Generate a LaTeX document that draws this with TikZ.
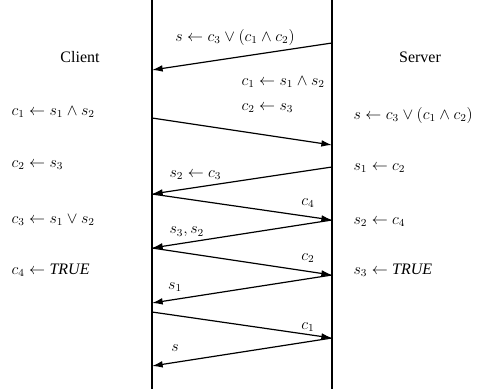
\documentclass[tikz,border=0pt]{standalone}
\usepackage{amsmath}
\usepackage{amssymb}
\usepackage{fontspec}
\setmainfont{Liberation Serif}
\usetikzlibrary{arrows.meta,positioning}
\tikzset{
  lado/.style={
    font=\large,
    inner sep=1pt
  },
  regla/.style={
    font=\large,
    anchor=west,
    inner sep=1pt
  },
  etiqueta/.style={
    font=\large,
    inner sep=1pt
  },
  vida/.style={
    line width=0.9pt,
    black
  },
  msg/.style={
    -{Latex[length=8pt,width=5pt]},
    line width=0.9pt,
    black
  }
}
\begin{document}
\begin{tikzpicture}[x=0.75pt,y=-0.75pt]
\useasboundingbox (0,0) rectangle (487,389);
% lineas de vida
\coordinate (ctop) at (152,0);
\coordinate (cbot) at (152,389);
\coordinate (stop) at (332,0);
\coordinate (sbot) at (332,389);
\draw[vida] (ctop) -- (cbot);
\draw[vida] (stop) -- (sbot);
% puntos de los mensajes
\coordinate (s1) at (332,43);  \coordinate (c1) at (152,70);
\coordinate (c2) at (152,118); \coordinate (s2) at (332,145);
\coordinate (s3) at (332,167); \coordinate (c3) at (152,194);
\coordinate (s4) at (332,220); \coordinate (c4) at (152,248);
\coordinate (s5) at (332,275); \coordinate (c5) at (152,303);
\coordinate (c6) at (152,312); \coordinate (s6) at (332,338);
\coordinate (c7) at (152,366);
% columnas
\node[lado] (cli) at (80,57) {Client};
\node[lado] (ser) at (420,57) {Server};
\node[regla] (ra) at (10,112) {$c_1 \leftarrow s_1 \wedge s_2$};
\node[regla] (rb) at (10,165) {$c_2 \leftarrow s_3$};
\node[regla] (rc) at (10,220) {$c_3 \leftarrow s_1 \vee s_2$};
\node[regla] (rd) at (10,270) {$c_4 \leftarrow \mathit{TRUE}$};
\node[regla] (qa) at (352,115) {$s \leftarrow c_3 \vee (c_1 \wedge c_2)$};
\node[regla] (qb) at (352,168) {$s_1 \leftarrow c_2$};
\node[regla] (qc) at (352,222) {$s_2 \leftarrow c_4$};
\node[regla] (qd) at (352,270) {$s_3 \leftarrow \mathit{TRUE}$};
% mensajes
\draw[msg] (s1) -- (c1);
\draw[msg] (c2) -- (s2);
\draw[msg] (s3) -- (c3);
\draw[msg] (c3) -- (s4);
\draw[msg] (s4) -- (c4);
\draw[msg] (c4) -- (s5);
\draw[msg] (s5) -- (c5);
\draw[msg] (c6) -- (s6);
\draw[msg] (s6) -- (c7);
% etiquetas
\node[etiqueta] (ea) at (235,37) {$s \leftarrow c_3 \vee (c_1 \wedge c_2)$};
\node[etiqueta, anchor=west] (eb) at (240,82) {$c_1 \leftarrow s_1 \wedge s_2$};
\node[etiqueta, anchor=west] (ec) at (240,108) {$c_2 \leftarrow s_3$};
\node[etiqueta, anchor=west] (ed) at (168,175) {$s_2 \leftarrow c_3$};
\node[etiqueta] (ee) at (308,203) {$c_4$};
\node[etiqueta, anchor=west] (ef) at (168,232) {$s_3, s_2$};
\node[etiqueta] (eg) at (308,258) {$c_2$};
\node[etiqueta] (eh) at (175,287) {$s_1$};
\node[etiqueta] (ei) at (308,327) {$c_1$};
\node[etiqueta] (ej) at (175,348) {$s$};
\end{tikzpicture}
\end{document}
